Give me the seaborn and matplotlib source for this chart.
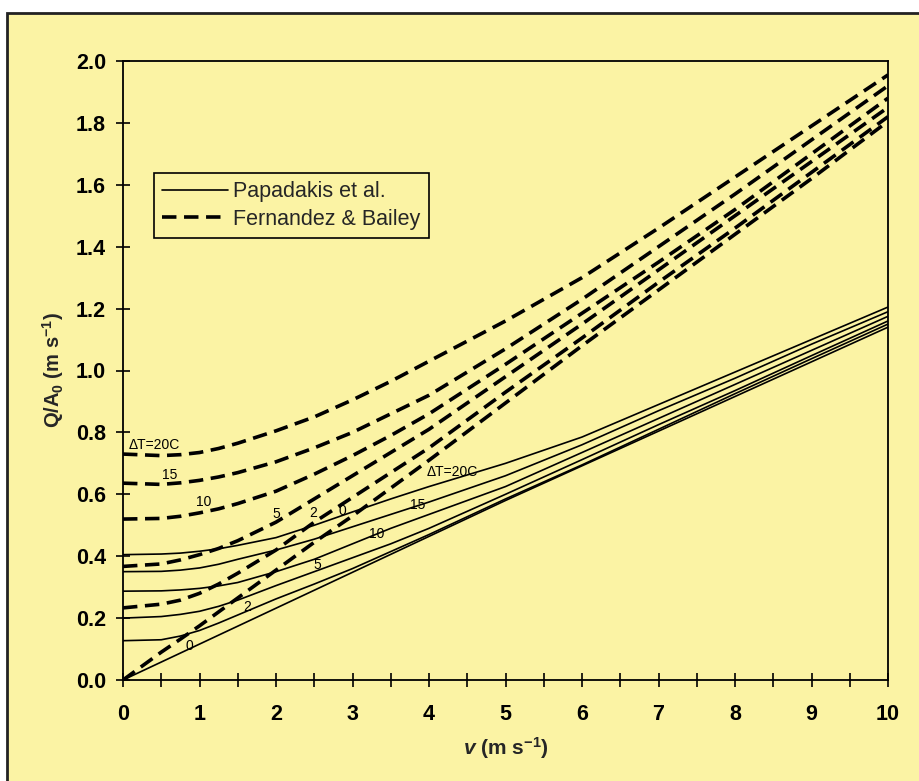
import numpy as np
import pandas as pd
import matplotlib.pyplot as plt
import seaborn as sns
from matplotlib.lines import Line2D
from matplotlib.patches import Rectangle

# wind speed (m s-1) where curves were read
v = [0, 0.5, 0.75, 1, 1.25, 1.5, 2, 2.5, 3, 3.5, 4, 5, 6, 7, 8, 9, 10]
delta_t = [0, 2, 5, 10, 15, 20]

# Papadakis et al. (solid)
pap_0 = [0, 0.058, 0.087, 0.116, 0.145, 0.174, 0.232, 0.29, 0.348, 0.406, 0.464, 0.58, 0.692, 0.804, 0.916, 1.028, 1.14]
pap_2 = [0.127, 0.13, 0.142, 0.16, 0.184, 0.21, 0.262, 0.31, 0.36, 0.415, 0.47, 0.585, 0.695, 0.81, 0.925, 1.038, 1.15]
pap_5 = [0.20, 0.205, 0.212, 0.222, 0.238, 0.258, 0.305, 0.35, 0.395, 0.44, 0.49, 0.60, 0.712, 0.825, 0.935, 1.048, 1.16]
pap_10 = [0.287, 0.288, 0.291, 0.296, 0.304, 0.315, 0.35, 0.39, 0.44, 0.49, 0.535, 0.625, 0.735, 0.845, 0.955, 1.065, 1.175]
pap_15 = [0.35, 0.351, 0.355, 0.362, 0.374, 0.39, 0.42, 0.455, 0.495, 0.535, 0.575, 0.66, 0.76, 0.87, 0.975, 1.085, 1.19]
pap_20 = [0.405, 0.407, 0.41, 0.416, 0.424, 0.435, 0.46, 0.50, 0.543, 0.585, 0.625, 0.70, 0.785, 0.89, 0.995, 1.10, 1.205]

# Fernandez & Bailey (dashed)
fb_0 = [0, 0.09, 0.132, 0.175, 0.22, 0.265, 0.355, 0.445, 0.53, 0.62, 0.71, 0.895, 1.08, 1.26, 1.44, 1.62, 1.805]
fb_2 = [0.233, 0.245, 0.258, 0.28, 0.31, 0.345, 0.42, 0.51, 0.59, 0.67, 0.75, 0.93, 1.105, 1.285, 1.46, 1.64, 1.82]
fb_5 = [0.367, 0.375, 0.388, 0.405, 0.425, 0.45, 0.51, 0.585, 0.66, 0.735, 0.81, 0.98, 1.15, 1.325, 1.50, 1.675, 1.85]
fb_10 = [0.52, 0.522, 0.529, 0.54, 0.553, 0.57, 0.61, 0.665, 0.725, 0.79, 0.86, 1.02, 1.185, 1.35, 1.52, 1.70, 1.88]
fb_15 = [0.636, 0.632, 0.637, 0.645, 0.656, 0.67, 0.705, 0.75, 0.80, 0.86, 0.92, 1.07, 1.23, 1.40, 1.57, 1.745, 1.92]
fb_20 = [0.73, 0.725, 0.728, 0.735, 0.748, 0.765, 0.805, 0.85, 0.905, 0.965, 1.03, 1.16, 1.30, 1.46, 1.625, 1.79, 1.955]

pap = [pap_0, pap_2, pap_5, pap_10, pap_15, pap_20]
fb = [fb_0, fb_2, fb_5, fb_10, fb_15, fb_20]

rows = []
for dt, ys in zip(delta_t, pap):
    for x, y in zip(v, ys):
        rows.append(("Papadakis et al.", dt, x, y))
for dt, ys in zip(delta_t, fb):
    for x, y in zip(v, ys):
        rows.append(("Fernandez & Bailey", dt, x, y))
df = pd.DataFrame(rows, columns=["model", "dT", "v", "Q"])

YELLOW = "#fbf3a4"
DASH = (0, (4, 2.1))

sns.set_style("ticks")
plt.rcParams["font.family"] = ["Liberation Sans", "DejaVu Sans"]
plt.rcParams["mathtext.fontset"] = "custom"
plt.rcParams["mathtext.rm"] = "Liberation Sans:bold"
plt.rcParams["mathtext.it"] = "Liberation Sans:italic:bold"
plt.rcParams["mathtext.bf"] = "Liberation Sans:bold"

fig = plt.figure(figsize=(9.19, 7.81), dpi=100, facecolor="white")
# scanned page panel
fig.patches.append(Rectangle((7 / 919, -0.05), 1.1, 1 - 13 / 781 + 0.05,
                             transform=fig.transFigure, facecolor=YELLOW,
                             edgecolor="#222222", lw=2, zorder=-10))
ax = fig.add_axes([123 / 919, 1 - 680 / 781, 765 / 919, 619 / 781])
ax.set_zorder(5)
ax.set_facecolor(YELLOW)

sns.lineplot(data=df[df.model == "Papadakis et al."], x="v", y="Q", units="dT",
             estimator=None, color="black", lw=1.2, ax=ax)
sns.lineplot(data=df[df.model == "Fernandez & Bailey"], x="v", y="Q", units="dT",
             estimator=None, color="black", lw=2.6, linestyle=DASH, ax=ax)

xt = np.arange(0, 10.01, 0.5)
yt = np.arange(0, 2.01, 0.2)
ax.set_xlim(0, 10)
ax.set_ylim(0, 2.0)
ax.set_xticks(xt)
ax.set_xticklabels([str(int(t)) if t == int(t) else "" for t in xt])
ax.set_yticks(yt)
ax.set_yticklabels(["%.1f" % t for t in yt])
ax.tick_params(direction="inout", length=10.5, width=1.2, labelsize=15.5, colors="black")
ax.tick_params(axis="x", pad=12)
ax.tick_params(axis="y", pad=7)
for lab in ax.get_xticklabels() + ax.get_yticklabels():
    lab.set_fontweight("bold")
for s in ax.spines.values():
    s.set_linewidth(1.3)
    s.set_color("black")

ax.set_xlabel(r"$\mathit{v}$ (m s$^{-1}$)", fontsize=15, fontweight="bold", labelpad=7)
ax.set_ylabel(r"Q/A$_0$ (m s$^{-1}$)", fontsize=14.5, fontweight="bold")
ax.yaxis.set_label_coords(-0.075, 0.5)

# curve labels
lab_kw = dict(fontsize=10, color="black", ha="center", va="center")
ax.text(0.41, 0.76, "ΔT=20C", **lab_kw)
ax.text(0.61, 0.661, "15", **lab_kw)
ax.text(1.05, 0.575, "10", **lab_kw)
ax.text(2.0, 0.537, "5", **lab_kw)
ax.text(2.48, 0.54, "2", **lab_kw)
ax.text(2.87, 0.545, "0", **lab_kw)
ax.text(4.31, 0.672, "ΔT=20C", **lab_kw)
ax.text(3.85, 0.564, "15", **lab_kw)
ax.text(3.32, 0.472, "10", **lab_kw)
ax.text(2.54, 0.37, "5", **lab_kw)
ax.text(1.62, 0.237, "2", **lab_kw)
ax.text(0.87, 0.111, "0", **lab_kw)

handles = [Line2D([], [], color="black", lw=1.2),
           Line2D([], [], color="black", lw=2.6, linestyle=DASH)]
leg = ax.legend(handles, ["Papadakis et al.", "Fernandez & Bailey"],
                loc="upper left", bbox_to_anchor=(0.040, 0.8196), fontsize=15.5,
                frameon=True, fancybox=False, edgecolor="black", facecolor=YELLOW,
                framealpha=1, handlelength=3.06, handletextpad=0.25, borderpad=0.4,
                labelspacing=0.3, borderaxespad=0)
leg.get_frame().set_linewidth(1.2)

fig.savefig("out.png", dpi=100, facecolor=fig.get_facecolor())
